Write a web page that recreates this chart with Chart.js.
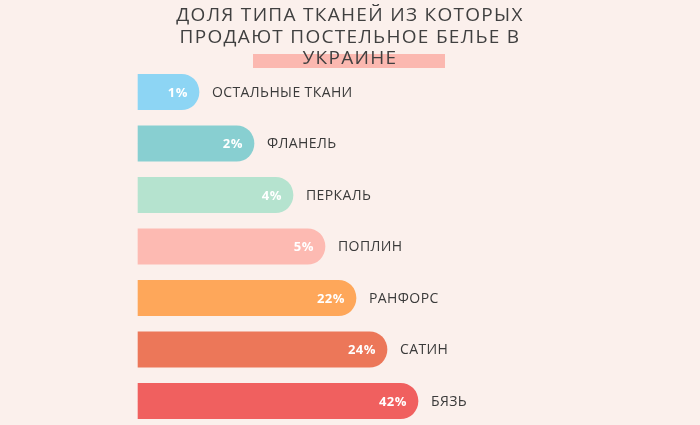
<!DOCTYPE html>
<html>
<head>
<meta charset="utf-8">
<script src="https://cdn.jsdelivr.net/npm/chart.js@4"></script>
<style>
  html, body { margin: 0; padding: 0; background: #fbf0ec; }
  #wrap { width: 700px; height: 425px; position: relative; }
</style>
</head>
<body>
<div id="wrap"><canvas id="c" width="700" height="425"></canvas></div>
<script>
// Data (top to bottom as in the picture)
const categories = ['ОСТАЛЬНЫЕ ТКАНИ', 'ФЛАНЕЛЬ', 'ПЕРКАЛЬ', 'ПОПЛИН', 'РАНФОРС', 'САТИН', 'БЯЗЬ'];
const shareLabels = ['1%', '2%', '4%', '5%', '22%', '24%', '42%'];
// Visual bar lengths as read from the infographic (not proportional to the shares)
const barLengths = [61, 116, 155, 187, 218, 249, 280];
const barColors = ['#8dd5f4', '#88cfd1', '#b5e3cf', '#fdbab2', '#fea75a', '#ec7759', '#f0605f'];
const titleLines = ['ДОЛЯ ТИПА ТКАНЕЙ ИЗ КОТОРЫХ', 'ПРОДАЮТ ПОСТЕЛЬНОЕ БЕЛЬЕ В', 'УКРАИНЕ'];

const titlePlugin = {
  id: 'infoTitle',
  beforeDraw(chart) {
    const ctx = chart.ctx;
    ctx.save();
    ctx.fillStyle = '#fbb8b0';
    ctx.fillRect(253, 54, 192, 14);
    ctx.fillStyle = '#404040';
    ctx.font = '19px "Open Sans"';
    ctx.letterSpacing = '1.3px';
    ctx.textAlign = 'center';
    ctx.textBaseline = 'alphabetic';
    const baselines = [21, 43, 64];
    titleLines.forEach((t, i) => ctx.fillText(t, 350, baselines[i]));
    ctx.restore();
  }
};

const labelPlugin = {
  id: 'barLabels',
  afterDatasetsDraw(chart) {
    const ctx = chart.ctx;
    const meta = chart.getDatasetMeta(0);
    ctx.save();
    ctx.textBaseline = 'middle';
    meta.data.forEach((el, i) => {
      ctx.letterSpacing = '0.5px';
      ctx.font = 'bold 13px "Open Sans"';
      ctx.fillStyle = '#ffffff';
      ctx.textAlign = 'right';
      ctx.fillText(shareLabels[i], el.x - 11, el.y + 1);
      ctx.letterSpacing = '0.4px';
      ctx.font = '14px "Open Sans"';
      ctx.fillStyle = '#3a3a3a';
      ctx.textAlign = 'left';
      ctx.fillText(categories[i], el.x + 13, el.y + 1);
    });
    ctx.restore();
  }
};

function build() {
  new Chart(document.getElementById('c'), {
    type: 'bar',
    data: {
      labels: categories,
      datasets: [{
        data: barLengths,
        backgroundColor: barColors,
        borderWidth: 0,
        borderSkipped: false,
        borderRadius: { topLeft: 0, bottomLeft: 0, topRight: 18, bottomRight: 18 },
        barThickness: 35.5,
        clip: false
      }]
    },
    options: {
      indexAxis: 'y',
      responsive: false,
      animation: false,
      layout: { padding: { left: 138, top: 92, bottom: 24, right: 0 } },
      scales: {
        x: { display: false, min: 0, max: 562 },
        y: { display: false, offset: false }
      },
      plugins: { legend: { display: false }, tooltip: { enabled: false }, title: { display: false } }
    },
    plugins: [titlePlugin, labelPlugin]
  });
}

Promise.all([
  document.fonts.load('19px "Open Sans"'),
  document.fonts.load('bold 13px "Open Sans"'),
  document.fonts.load('14px "Open Sans"')
]).then(build, build);
</script>
</body>
</html>
